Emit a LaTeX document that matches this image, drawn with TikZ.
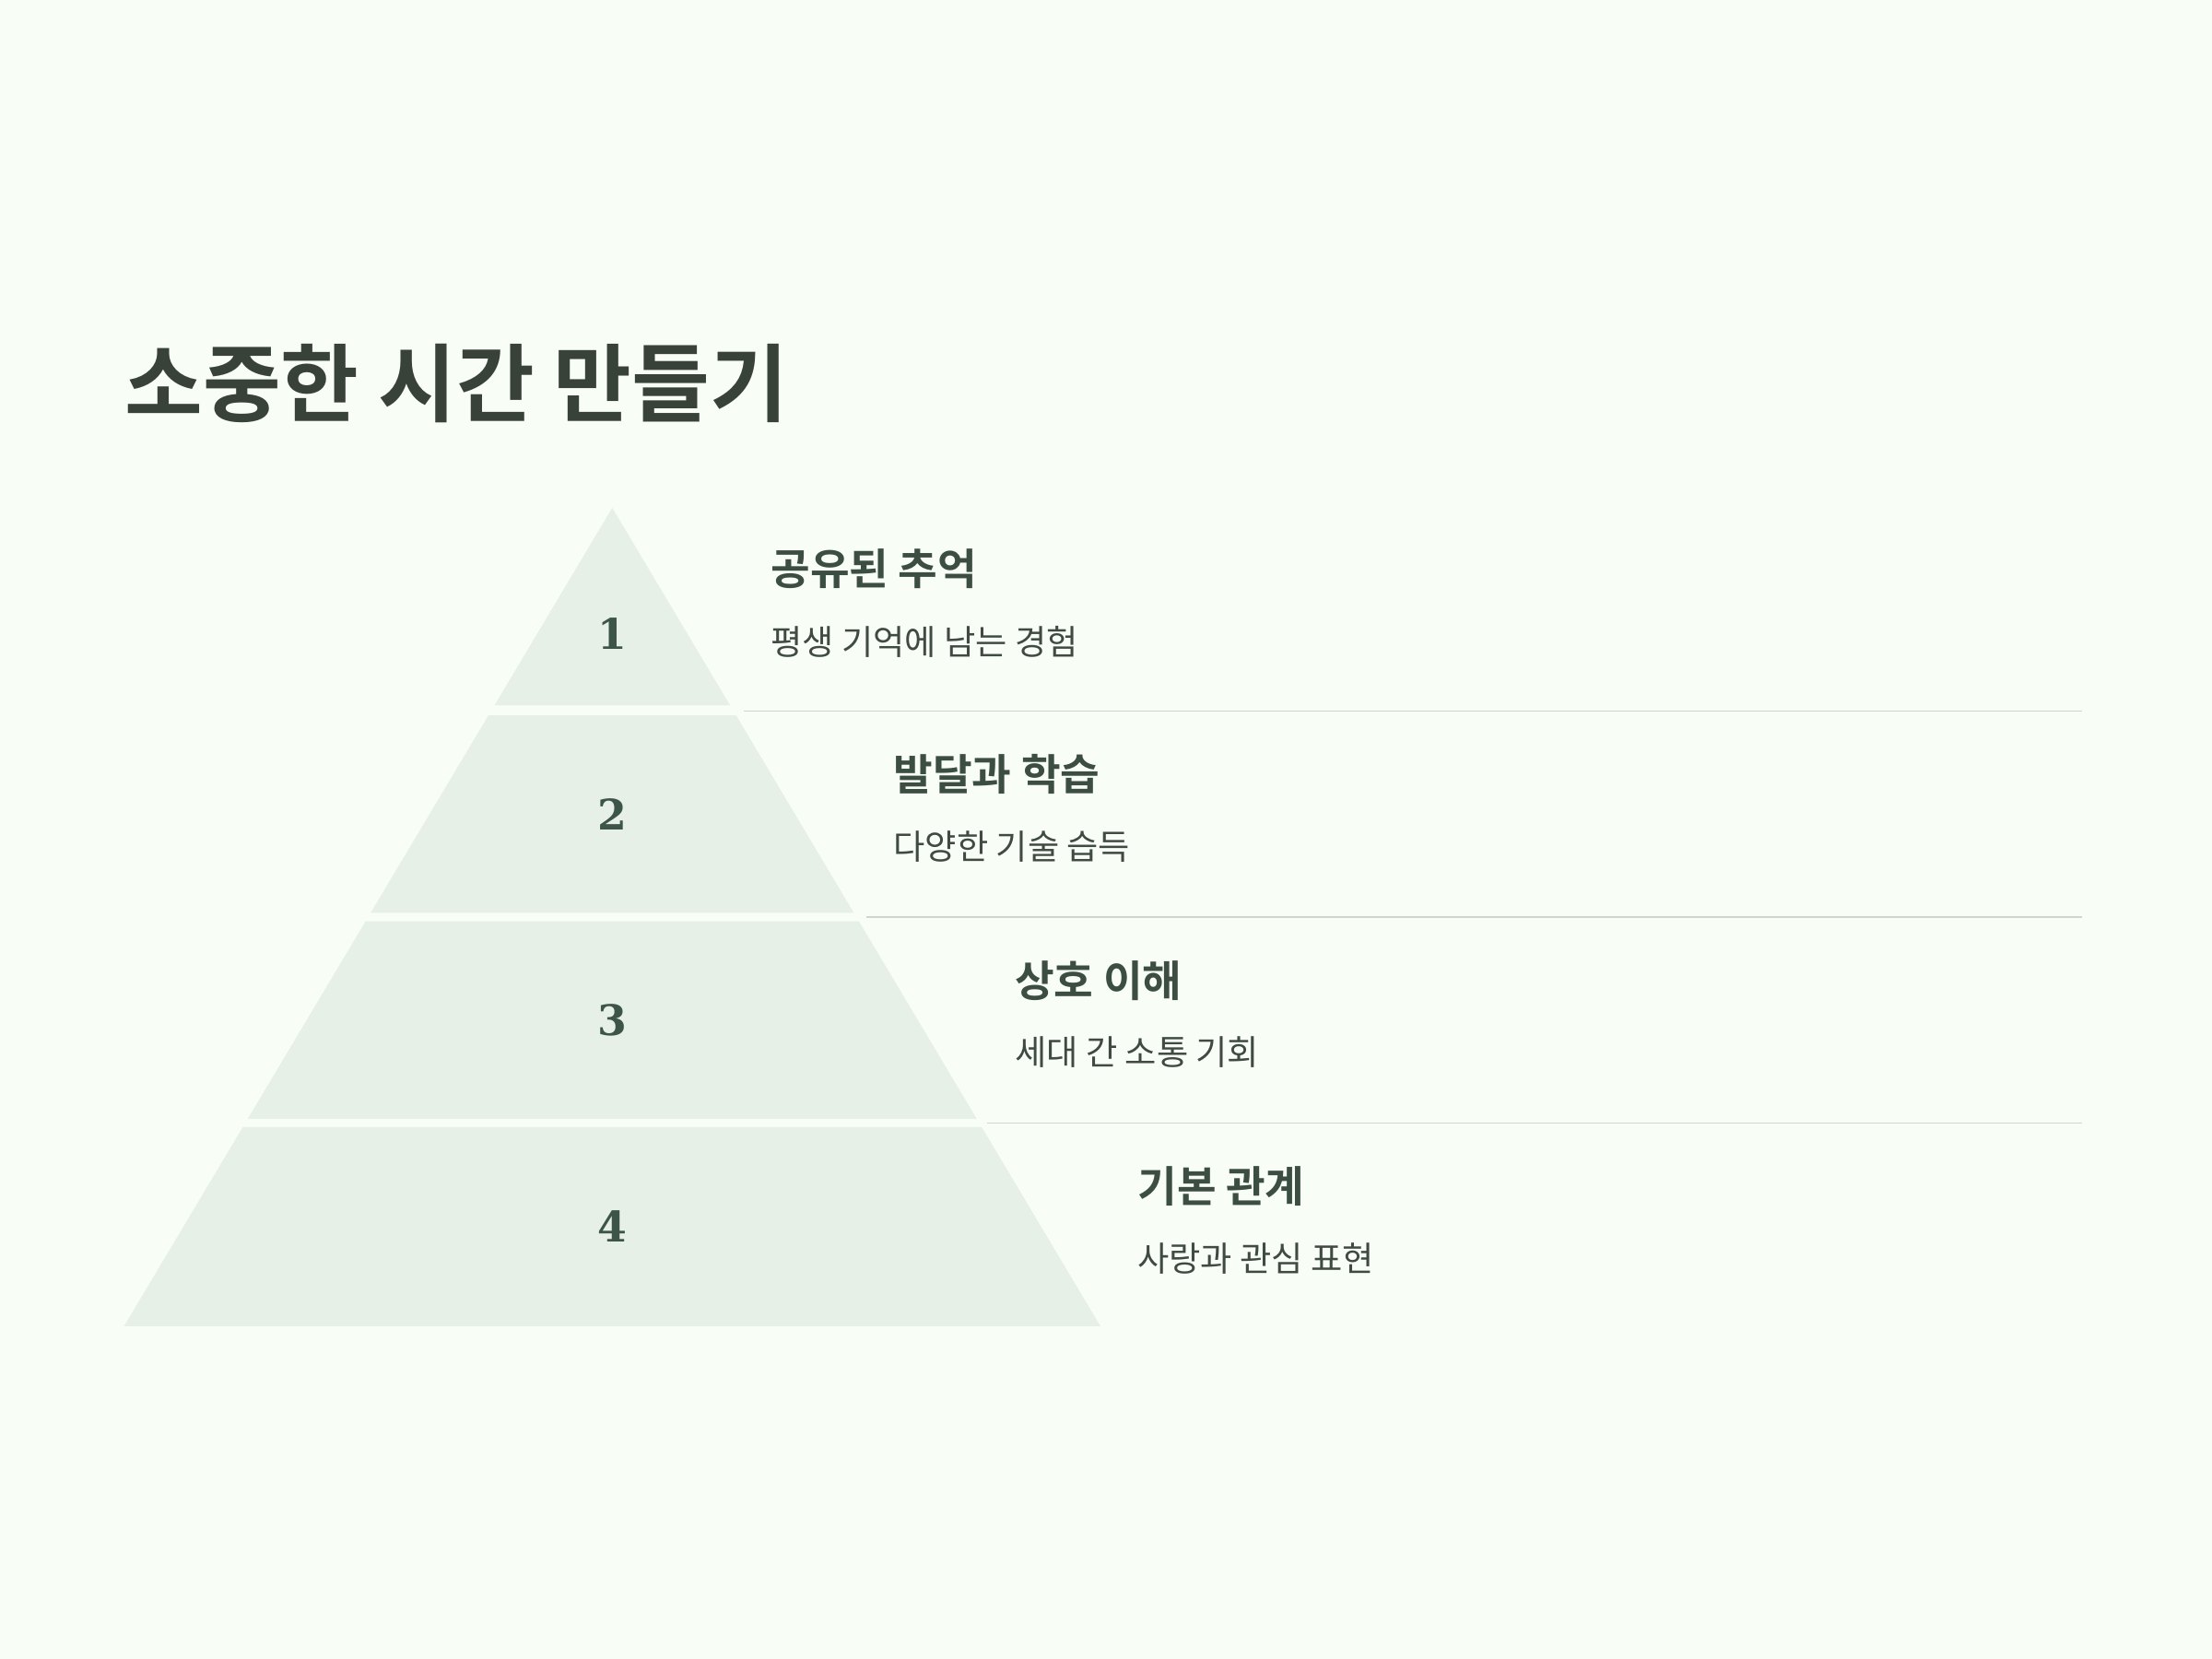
\documentclass[tikz,border=0pt]{standalone}
\usepackage{fontspec}
\newfontfamily\kr{Noto Sans CJK KR}[BoldFont={* Bold}]
\newfontfamily\numfont{DejaVu Serif}

\definecolor{bgcol}{HTML}{F8FDF6}
\definecolor{stepfill}{HTML}{E7F0E6}
\definecolor{sepcol}{HTML}{CFD5CF}
\definecolor{titlecol}{HTML}{394239}
\definecolor{headcol}{HTML}{3C4D42}
\definecolor{subcol}{HTML}{3F4A42}
\definecolor{numcol}{HTML}{3D5548}

\begin{document}
\begin{tikzpicture}[x=0.015306cm, y=-0.015306cm]
    \tikzset{
        layer/.style={fill=stepfill, draw=none},
        num/.style={font=\numfont\fontsize{13}{13}\selectfont\bfseries, text=numcol},
        head/.style={anchor=west, inner sep=0pt, text=headcol,
            font=\kr\fontsize{13.2}{14}\selectfont\bfseries},
        sub/.style={anchor=west, inner sep=0pt, text=subcol,
            font=\kr\fontsize{10.6}{12}\selectfont},
        sepline/.style={draw=sepcol, line width=0.5pt}
    }

    \fill[bgcol] (0,0) rectangle (1568,1176);
    \useasboundingbox (0,0) rectangle (1568,1176);

    \node (title) at (88, 272) [anchor=west, inner sep=0pt, text=titlecol,
        font=\kr\fontsize{26.2}{30}\selectfont\bfseries] {소중한 시간 만들기};

    % pyramid
    \fill[layer] (434, 360) -- (517.5, 500) -- (350.5, 500) -- cycle;
    \fill[layer] (346.3, 507) -- (521.7, 507) -- (605.2, 647) -- (262.8, 647) -- cycle;
    \fill[layer] (259.2, 653) -- (608.8, 653) -- (692.3, 793) -- (175.7, 793) -- cycle;
    \fill[layer] (172.1, 799) -- (695.9, 799) -- (780, 940) -- (88, 940) -- cycle;

    \node (n1) at (434, 449) [num] {1};
    \node (n2) at (434, 577) [num] {2};
    \node (n3) at (434, 723) [num] {3};
    \node (n4) at (434, 869) [num] {4};

    % separators
    \coordinate (s1a) at (527, 504);
    \coordinate (s1b) at (1476, 504);
    \coordinate (s2a) at (614, 650);
    \coordinate (s2b) at (1476, 650);
    \coordinate (s3a) at (700, 796);
    \coordinate (s3b) at (1476, 796);
    \draw [sepline] (s1a) -- (s1b);
    \draw [sepline] (s2a) -- (s2b);
    \draw [sepline] (s3a) -- (s3b);

    % labels
    \node (h1) at (546, 403) [head] {공유된 추억};
    \node (d1) at (546, 455) [sub] {평생 기억에 남는 경험};

    \node (h2) at (633, 549) [head] {발달과 학습};
    \node (d2) at (633, 600) [sub] {다양한 기술 습득};

    \node (h3) at (719, 695) [head] {상호 이해};
    \node (d3) at (719, 746) [sub] {세대 간 소통 기회};

    \node (h4) at (806, 841) [head] {기본 관계};
    \node (d4) at (806, 892) [sub] {사랑과 관심 표현};
\end{tikzpicture}
\end{document}
